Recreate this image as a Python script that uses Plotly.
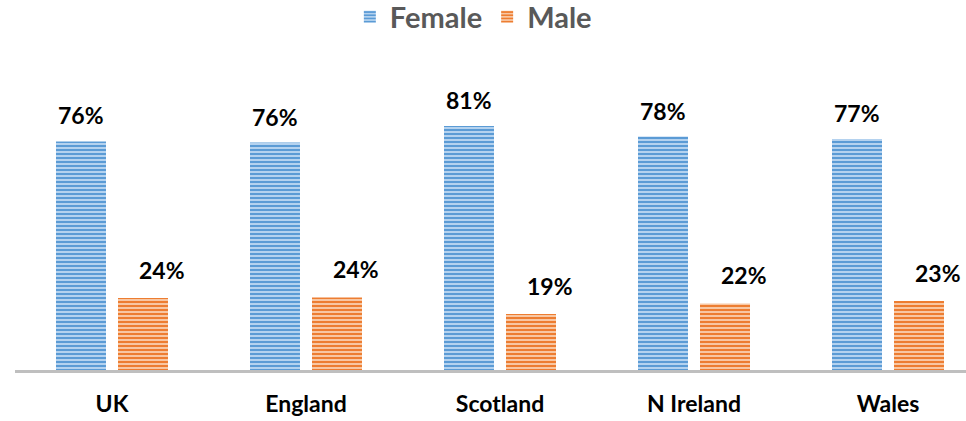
import plotly.graph_objects as go

categories = ["UK", "England", "Scotland", "N Ireland", "Wales"]
female = [76.2, 75.8, 81.3, 77.8, 77.0]
male = [24.0, 24.2, 18.7, 22.2, 23.0]
female_labels = ["76%", "76%", "81%", "78%", "77%"]
male_labels = ["24%", "24%", "19%", "22%", "23%"]

FONT = "Lato"
BAR_W = 0.2577
F_OFF = -0.2887
M_OFF = 0.0309

fig = go.Figure()
fig.add_trace(go.Bar(
    name="Female", x=categories, y=female, width=BAR_W, offset=F_OFF,
    marker=dict(color="#a9cbec", line=dict(width=0),
                pattern=dict(shape="-", fgcolor="#5b9bd5", bgcolor="#b4d2ef",
                             size=4, solidity=0.5, fillmode="replace")),
    hoverinfo="skip",
))
fig.add_trace(go.Bar(
    name="Male", x=categories, y=male, width=BAR_W, offset=M_OFF,
    marker=dict(color="#f6b98e", line=dict(width=0),
                pattern=dict(shape="-", fgcolor="#ed7d31", bgcolor="#f8c7a3",
                             size=4, solidity=0.5, fillmode="replace")),
    hoverinfo="skip",
))

for i, c in enumerate(categories):
    fig.add_annotation(x=i + F_OFF + BAR_W / 2, y=female[i], text=female_labels[i],
                       showarrow=False, yanchor="middle", yshift=26,
                       font=dict(family=FONT, size=23, color="#000000", weight="bold"))
    fig.add_annotation(x=i + M_OFF + BAR_W / 2, y=male[i], text=male_labels[i],
                       showarrow=False, yanchor="middle", yshift=28, xshift=19,
                       font=dict(family=FONT, size=23, color="#000000", weight="bold"))

fig.update_layout(
    width=966, height=421,
    margin=dict(l=15, r=0, t=100, b=51, autoexpand=False),
    paper_bgcolor="white", plot_bgcolor="white",
    barmode="group",
    showlegend=True,
    legend=dict(orientation="h", x=0.49, xanchor="center", xref="container",
                y=1 - 17 / 421, yanchor="middle", yref="container",
                font=dict(family=FONT, size=29, color="#595959", weight="bold"),
                bgcolor="rgba(0,0,0,0)", itemclick=False, itemdoubleclick=False),
    xaxis=dict(type="category", range=[-0.5, 4.402], showgrid=False, zeroline=False,
               showline=True, linecolor="#bfbfbf", linewidth=3,
               ticks="", ticklabelstandoff=11, tickangle=0, automargin=False,
               tickfont=dict(family=FONT, size=23, color="#000000", weight="bold")),
    yaxis=dict(range=[0, 90], visible=False, showgrid=False, zeroline=False),
)

fig.write_html("out.html", config={"displayModeBar": False},
               post_script="document.body.style.margin='0';")
